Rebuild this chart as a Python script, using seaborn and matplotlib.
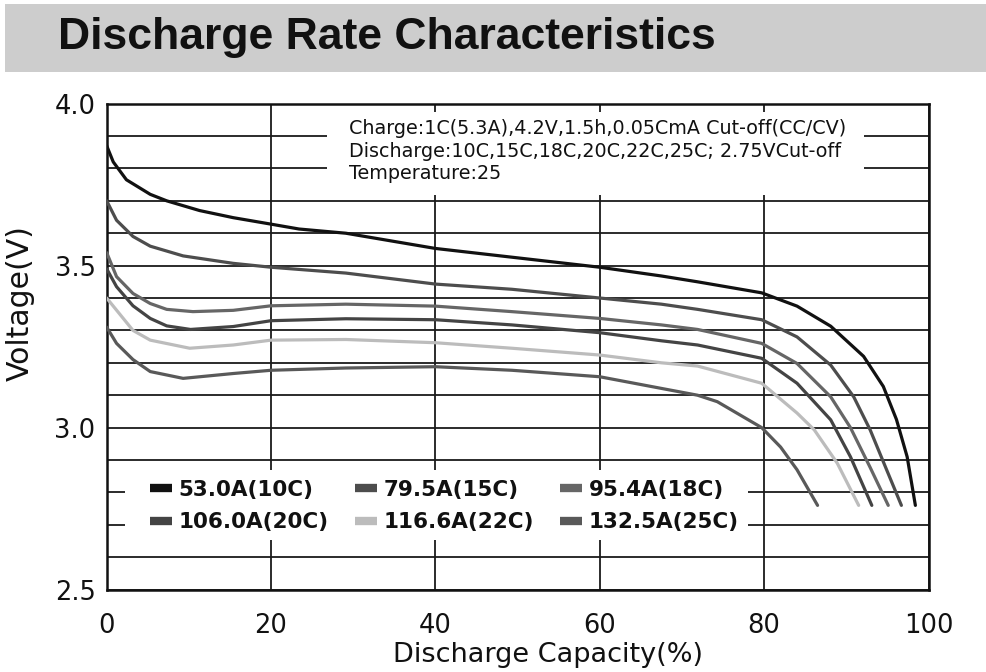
import matplotlib
matplotlib.use("Agg")
import matplotlib.pyplot as plt
import seaborn as sns
import pandas as pd
import numpy as np
from matplotlib.lines import Line2D
from matplotlib.patches import Rectangle

# ---- data ----
labels = ["53.0A(10C)", "79.5A(15C)", "95.4A(18C)", "106.0A(20C)", "116.6A(22C)", "132.5A(25C)"]
colors = ["#111111", "#4d4d4d", "#666666", "#444444", "#bcbcbc", "#595959"]

x_10c = [0, 0.8, 2.4, 5.3, 7.3, 11.3, 15.4, 20, 23.4, 29.1, 40, 49.3, 60, 67.5, 71.9, 79.7, 84.0, 88.1, 92.1, 94.5, 96.1, 97.4, 98.4]
v_10c = [3.87, 3.82, 3.765, 3.72, 3.70, 3.67, 3.648, 3.628, 3.613, 3.60, 3.553, 3.526, 3.495, 3.468, 3.45, 3.416, 3.375, 3.313, 3.22, 3.127, 3.025, 2.91, 2.76]

x_15c = [0, 1.2, 3.2, 5.3, 9.3, 15.4, 20, 29.1, 40, 49.3, 60, 67.5, 71.9, 79.7, 84.0, 88.1, 90.9, 92.9, 94.9, 96.7]
v_15c = [3.70, 3.64, 3.59, 3.56, 3.53, 3.507, 3.495, 3.477, 3.443, 3.427, 3.40, 3.381, 3.365, 3.333, 3.28, 3.193, 3.095, 2.993, 2.87, 2.76]

x_18c = [0, 1.2, 3.2, 5.3, 7.3, 10.5, 15.4, 20, 29.1, 40, 49.3, 60, 67.5, 71.9, 79.7, 84.0, 88.1, 90.5, 92.9, 95.1]
v_18c = [3.54, 3.466, 3.414, 3.383, 3.365, 3.358, 3.362, 3.376, 3.381, 3.375, 3.358, 3.337, 3.317, 3.303, 3.26, 3.198, 3.095, 3.0, 2.877, 2.76]

x_20c = [0, 1.2, 3.2, 5.3, 7.3, 10.2, 15.4, 20, 29.1, 40, 49.3, 60, 67.5, 71.9, 79.7, 84.0, 88.1, 90.5, 93.1]
v_20c = [3.49, 3.435, 3.376, 3.337, 3.314, 3.303, 3.312, 3.33, 3.336, 3.333, 3.317, 3.293, 3.268, 3.255, 3.214, 3.137, 3.024, 2.91, 2.76]

x_22c = [0, 3.2, 5.3, 10.1, 15.4, 20, 29.1, 40, 49.3, 60, 67.5, 71.9, 79.7, 84.0, 86.1, 88.9, 91.5]
v_22c = [3.40, 3.30, 3.27, 3.245, 3.255, 3.27, 3.272, 3.262, 3.245, 3.224, 3.20, 3.19, 3.137, 3.045, 2.993, 2.89, 2.76]

x_25c = [0, 1.2, 3.2, 5.3, 9.3, 15.4, 20, 29.1, 40, 49.3, 60, 67.5, 71.9, 74.3, 79.7, 82.0, 84.0, 86.5]
v_25c = [3.31, 3.26, 3.21, 3.173, 3.152, 3.167, 3.177, 3.184, 3.188, 3.177, 3.157, 3.121, 3.10, 3.08, 3.0, 2.94, 2.87, 2.76]

xticks = [0, 20, 40, 60, 80, 100]
yticks = [2.5, 3.0, 3.5, 4.0]
title = "Discharge Rate Characteristics"
note = ("Charge:1C(5.3A),4.2V,1.5h,0.05CmA Cut-off(CC/CV)\n"
        "Discharge:10C,15C,18C,20C,22C,25C; 2.75VCut-off\n"
        "Temperature:25")

xs = [x_10c, x_15c, x_18c, x_20c, x_22c, x_25c]
vs = [v_10c, v_15c, v_18c, v_20c, v_22c, v_25c]
df = pd.concat([pd.DataFrame({"cap": x, "volt": v, "series": lab}) for x, v, lab in zip(xs, vs, labels)],
               ignore_index=True)

# ---- figure ----
sns.set_theme(style="white")
plt.rcParams['font.family'] = ['DejaVu Sans']

fig = plt.figure(figsize=(9.86, 6.72), dpi=100)
fig.patch.set_facecolor("white")

# title banner
fig.add_artist(Rectangle((5 / 986, 1 - 72 / 672), 1, 68 / 672, transform=fig.transFigure,
                         facecolor="#cdcdcd", edgecolor="none", zorder=0))
fig.text(58 / 986, 1 - 37 / 672, title, fontsize=32, fontweight="bold",
         family=["Liberation Sans", "DejaVu Sans"], va="center", ha="left", color="#111111")

ax = fig.add_axes([0.1082, 0.1226, 0.8335, 0.7232])
sns.lineplot(data=df, x="cap", y="volt", hue="series", hue_order=labels,
             palette=dict(zip(labels, colors)), estimator=None, sort=False,
             linewidth=2.3, legend=False, ax=ax, zorder=3)

ax.set_xlim(0, 100)
ax.set_ylim(2.5, 4.0)
ax.set_xticks(xticks)
ax.set_yticks(yticks)
ax.set_yticks(np.round(np.arange(2.6, 4.0, 0.1), 2), minor=True)
ax.set_xticklabels([str(t) for t in xticks])
ax.set_yticklabels([f"{t:.1f}" for t in yticks])
ax.set_axisbelow(True)
ax.grid(which="major", axis="x", color="#1a1a1a", linewidth=1.3)
ax.grid(which="both", axis="y", color="#1a1a1a", linewidth=1.3)
ax.tick_params(axis="both", which="both", length=0)
ax.tick_params(axis="x", labelsize=18.5, pad=17, colors="#111111")
ax.tick_params(axis="y", labelsize=18.5, pad=8, colors="#111111")
for s in ax.spines.values():
    s.set_color("#111111")
    s.set_linewidth(1.8)

ax.set_xlabel("Discharge Capacity(%)", fontsize=19.5, color="#111111")
ax.set_ylabel("Voltage(V)", fontsize=21.5, color="#111111")
ax.xaxis.set_label_coords(0.537, -0.108)
ax.yaxis.set_label_coords(-0.088, 0.59)

# white masks behind note and legend
ax.add_patch(Rectangle((26.8, 3.718), 92.2 - 26.8, 3.975 - 3.718, facecolor="white",
                       edgecolor="none", zorder=1))
ax.add_patch(Rectangle((2.2, 2.654), 78.0 - 2.2, 2.87 - 2.654, facecolor="white",
                       edgecolor="none", zorder=1))

ax.text(29.5, 3.952, note, fontsize=13.8, va="top", ha="left", linespacing=1.23,
        color="#111111", zorder=4)

handles = [Line2D([], [], color=c, lw=6, solid_capstyle="butt") for c in colors]
order = [0, 3, 1, 4, 2, 5]
leg = ax.legend([handles[i] for i in order], [labels[i] for i in order], ncol=3,
                loc="upper left", bbox_to_anchor=(0.0527, 0.2255), frameon=False,
                prop={"weight": "bold", "size": 15.5}, handlelength=1.02, handletextpad=0.3,
                columnspacing=1.23, labelspacing=0.57, borderpad=0, borderaxespad=0)
for t in leg.get_texts():
    t.set_color("#111111")
leg.set_zorder(5)

fig.savefig("out.png", dpi=100)
